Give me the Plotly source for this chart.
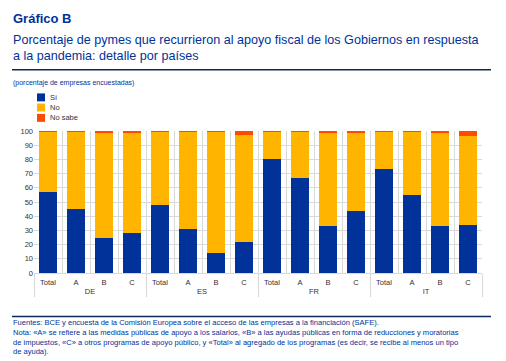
import plotly.graph_objects as go

countries = ["DE", "ES", "FR", "IT"]
programs = ["Total", "A", "B", "C"]
si = [57, 45, 24.5, 28.5, 48, 31, 14, 21.5, 80, 67, 33, 44, 73.5, 55, 33, 34]
no_sabe = [0.5, 0.5, 1.5, 1, 0.3, 0.3, 0.5, 2.5, 0.3, 0.5, 1.2, 1.2, 0.3, 0.5, 1, 3.5]
no = [round(100 - s - n, 1) for s, n in zip(si, no_sabe)]
legend_names = ["Sí", "No", "No sabe"]

grp = [c for c in countries for _ in programs]
sub = [p for _ in countries for p in programs]

BLUE = "#003299"
YEL = "#FFB400"
ORA = "#FF4B00"
COLORS = [BLUE, YEL, ORA]
FONT = "Arial, Liberation Sans, sans-serif"

# the page body has an 8px margin; work in page pixels and convert
OFF = 8
W, H = 506 - OFF, 361 - OFF
L, R, T, B = 34 - OFF, 482 - OFF, 130.5 - OFF, 273.3 - OFF
PW, PH = R - L, B - T


def px(x):
    return (x - OFF - L) / PW


def py(y):
    return (B - (y - OFF)) / PH


fig = go.Figure()
for name, vals, col in zip(legend_names, [si, no, no_sabe], COLORS):
    fig.add_trace(go.Bar(x=[grp, sub], y=vals, name=name, marker_color=col,
                         marker_line_width=0, showlegend=False))

fig.update_layout(
    barmode="stack",
    bargap=0.33,
    width=W, height=H,
    margin=dict(l=L, r=W - R, t=T, b=H - B, autoexpand=False),
    paper_bgcolor="white", plot_bgcolor="white",
    font=dict(family=FONT, size=8, color="#333333"),
    showlegend=False,
    xaxis=dict(type="multicategory", tickson="boundaries", showgrid=True,
               gridcolor="#d9d9d9", gridwidth=1, showdividers=True,
               dividercolor="#d9d9d9", dividerwidth=1, automargin=False,
               tickfont=dict(size=7.5, color="#333333"), ticks="",
               ticklabelstandoff=2,
               showline=True, linecolor="#d9d9d9"),
    yaxis=dict(range=[0, 100], dtick=10, showgrid=True, gridcolor="#d9d9d9",
               tickfont=dict(size=7.5, color="#333333"), zeroline=False,
               ticks="", automargin=False),
)

# manual compact legend
for i, (name, col) in enumerate(zip(legend_names, COLORS)):
    yc = [96.7, 106.9, 117.3][i]
    fig.add_shape(type="rect", xref="paper", yref="paper",
                  x0=px(37), x1=px(45), y0=py(yc + 4), y1=py(yc - 4),
                  fillcolor=col, line=dict(width=0))
    fig.add_annotation(xref="paper", yref="paper", x=px(48), y=py(yc),
                       xanchor="left", yanchor="middle", showarrow=False,
                       text=name, font=dict(size=7.5, color="#333333", family=FONT))

fig.add_annotation(xref="paper", yref="paper", x=px(11), y=py(17),
                   xanchor="left", yanchor="middle", showarrow=False,
                   text="<b>Gráfico B</b>", font=dict(size=13, color=BLUE, family=FONT))
fig.add_annotation(xref="paper", yref="paper", x=px(11), y=py(47),
                   xanchor="left", yanchor="middle", showarrow=False, align="left",
                   text="Porcentaje de pymes que recurrieron al apoyo fiscal de los Gobiernos en respuesta<br>a la pandemia: detalle por países",
                   font=dict(size=12.6, color=BLUE, family=FONT))
fig.add_annotation(xref="paper", yref="paper", x=px(11), y=py(82),
                   xanchor="left", yanchor="middle", showarrow=False,
                   text="(porcentaje de empresas encuestadas)",
                   font=dict(size=7, color=BLUE, family=FONT))
fig.add_annotation(xref="paper", yref="paper", x=px(11), y=py(338),
                   xanchor="left", yanchor="middle", showarrow=False, align="left",
                   text=("Fuentes: BCE y encuesta de la Comisión Europea sobre el acceso de las empresas a la financiación (SAFE).<br>"
                         "Nota: «A» se refiere a las medidas públicas de apoyo a los salarios, «B» a las ayudas públicas en forma de reducciones y moratorias<br>"
                         "de impuestos, «C» a otros programas de apoyo público, y «Total» al agregado de los programas (es decir, se recibe al menos un tipo<br>"
                         "de ayuda)."),
                   font=dict(size=7.55, color=BLUE, family=FONT))

for yy in [69, 317]:
    fig.add_shape(type="line", xref="paper", yref="paper",
                  x0=px(12), x1=px(491), y0=py(yy), y1=py(yy),
                  line=dict(color="#0B2A5B", width=1.5))

fig.write_html("out.html")
